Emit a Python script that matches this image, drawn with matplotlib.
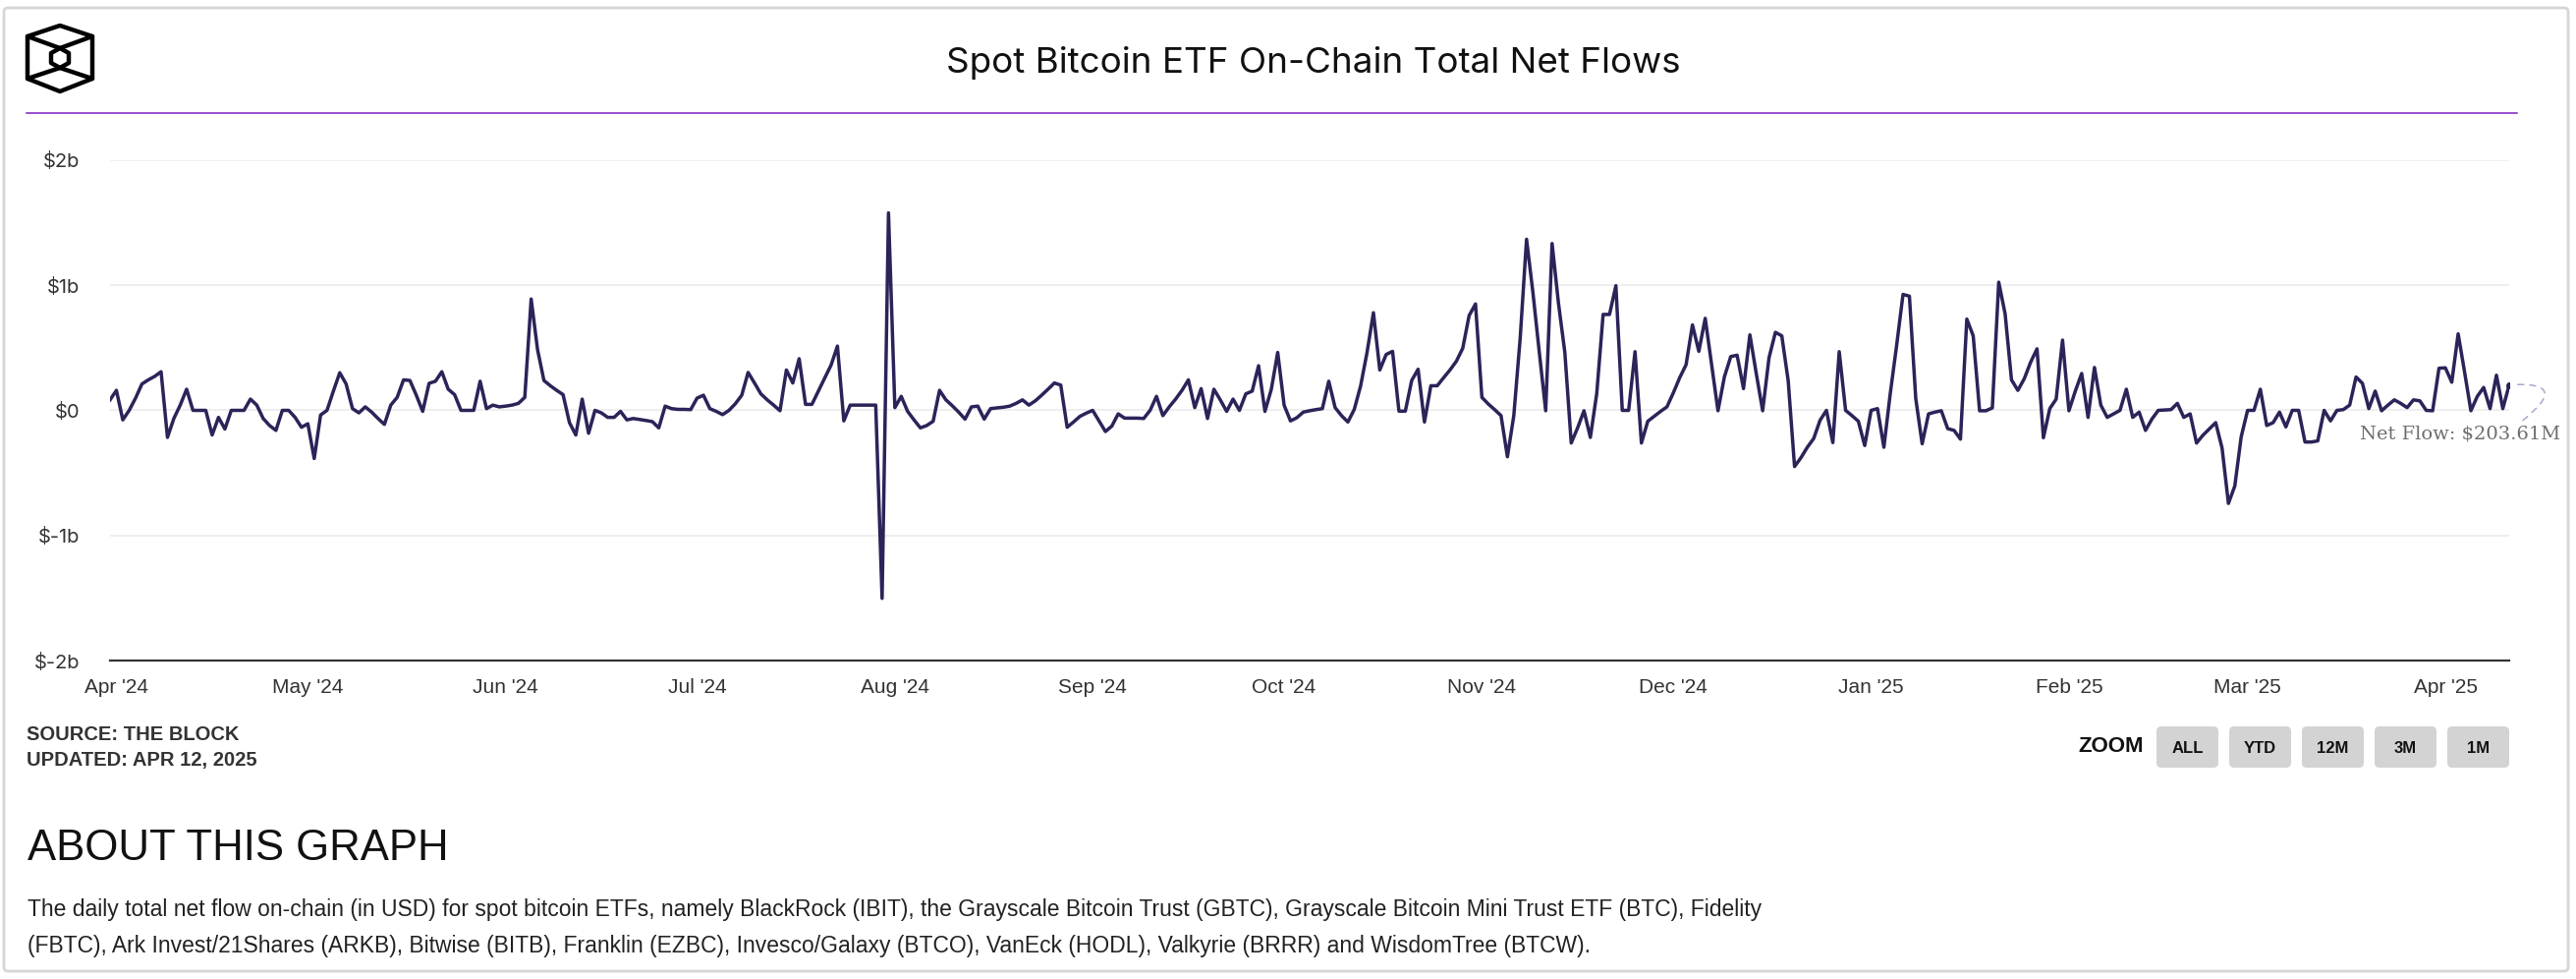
import matplotlib
matplotlib.use("Agg")
import matplotlib.pyplot as plt
import matplotlib.dates as mdates
from matplotlib.ticker import FuncFormatter
from matplotlib.patches import FancyBboxPatch, Polygon
import pandas as pd

# Data: daily on-chain net flow, $ millions
start_date = "2024-03-31"
end_date = "2025-04-11"
net_flow_musd = [
    84, 160, -76, 0, 98, 211, 244, 272, 309, -216,
    -65, 42, 169, 0, 0, 0, -197, -56, -149, 0,
    0, 0, 90, 42, -65, -121, -160, 0, 0, -56,
    -135, -107, -385, -37, 0, 154, 301, 211, 14, -20,
    28, -14, -65, -112, 42, 104, 244, 239, 121, -8,
    216, 233, 309, 169, 126, 0, 0, 0, 233, 14,
    42, 28, 34, 42, 56, 104, 890, 486, 239, 197,
    160, 126, -98, -197, 90, -183, 0, -20, -56, -56,
    -8, -76, -65, -73, -81, -90, -140, 34, 14, 8,
    8, 6, 98, 121, 14, -8, -34, 0, 53, 121,
    303, 219, 132, 84, 42, -3, 323, 219, 413, 48,
    48, 154, 258, 362, 514, -84, 42, 42, 42, 42,
    42, -1503, 1579, 22, 112, -8, -76, -140, -121, -87,
    160, 84, 37, -14, -70, 28, 34, -70, 14, 20,
    25, 34, 56, 84, 42, 76, 121, 169, 219, 202,
    -135, -93, -48, -22, 0, -84, -169, -126, -28, -62,
    -62, -62, -65, 0, 112, -42, 28, 90, 160, 244,
    22, 174, -65, 169, 84, -8, 90, 0, 132, 154,
    357, -8, 169, 463, 42, -84, -59, -14, -3, 6,
    14, 233, 22, -42, -93, 8, 197, 463, 781, 323,
    447, 472, -6, -6, 239, 329, -93, 197, 197, 261,
    323, 393, 497, 758, 851, 104, 51, 6, -42, -371,
    -42, 576, 1368, 941, 463, -3, 1334, 857, 463, -261,
    -140, -3, -216, 135, 767, 767, 997, 0, 0, 469,
    -261, -87, -48, -8, 28, 140, 261, 365, 683, 472,
    736, 365, -3, 267, 430, 441, 174, 604, 295, -3,
    421, 624, 596, 239, -449, -379, -295, -225, -79, 0,
    -258, 469, 0, -42, -87, -281, 0, 14, -295, 135,
    520, 927, 913, 93, -267, -28, -14, -3, -146, -160,
    -230, 730, 596, -3, -3, 20, 1025, 772, 244, 160,
    253, 385, 492, -219, 14, 90, 562, -3, 154, 295,
    -56, 343, 42, -56, -28, 0, 169, -56, -14, -160,
    -70, 0, 3, 6, 56, -56, -28, -261, -199, -149,
    -98, -301, -744, -604, -211, 0, 0, 169, -121, -98,
    -14, -132, 0, 0, -253, -253, -244, 0, -84, 0,
    6, 42, 267, 216, 14, 154, -3, 42, 84, 56,
    22, 84, 76, 0, -3, 337, 340, 225, 612, 309,
    -3, 112, 183, 14, 281, 14, 203.61,
]
dates = pd.date_range(start_date, end_date, freq="D")

title = "Spot Bitcoin ETF On-Chain Total Net Flows"
zoom_labels = ["ALL", "YTD", "12M", "3M", "1M"]
about_lines = [
    "The daily total net flow on-chain (in USD) for spot bitcoin ETFs, namely BlackRock (IBIT), "
    "the Grayscale Bitcoin Trust (GBTC), Grayscale Bitcoin Mini Trust ETF (BTC), Fidelity",
    "(FBTC), Ark Invest/21Shares (ARKB), Bitwise (BITB), Franklin (EZBC), Invesco/Galaxy (BTCO), "
    "VanEck (HODL), Valkyrie (BRRR) and WisdomTree (BTCW).",
]

# Styling
W, H = 2622, 996
line_color = "#2a2459"
text_dark = "#333333"
purple = "#7d1fc4"

fig = plt.figure(figsize=(W / 100, H / 100), dpi=100)
fig.patch.set_facecolor("white")

# Overlay in pixel coords (y down) for the page furniture
deco = fig.add_axes([0, 0, 1, 1])
deco.set_xlim(0, W)
deco.set_ylim(H, 0)
deco.axis("off")

card = FancyBboxPatch((4, 8), 2610, 980, boxstyle="round,pad=0,rounding_size=4",
                      fc="white", ec="#d6d6d6", lw=2, clip_on=False)
deco.add_patch(card)

# logo
outer = [(61, 26), (94, 37), (94, 80), (61, 93), (28, 80), (28, 37)]
inner = [(61, 49), (70, 54), (70, 64), (61, 69), (52, 64), (52, 54)]
deco.add_patch(Polygon(outer, closed=True, fill=False, ec="black", lw=3.2, joinstyle="round"))
deco.add_patch(Polygon(inner, closed=True, fill=False, ec="black", lw=3.2, joinstyle="round"))
for (xa, ya), (xb, yb) in [((28, 37), (61, 49)), ((94, 37), (61, 49)),
                           ((28, 80), (61, 69)), ((94, 80), (61, 69))]:
    deco.plot([xa, xb], [ya, yb], color="black", lw=3.2, solid_capstyle="round")

deco.text(1337, 64, title, ha="center", va="center", fontsize=26.5,
          family="Inter", color="#111111")
deco.plot([27, 2562], [115, 115], color=purple, lw=1.1)

deco.text(27, 747, "SOURCE: THE BLOCK", va="center", fontsize=14.5,
          fontweight="bold", family="Liberation Sans", color=text_dark)
deco.text(27, 773, "UPDATED: APR 12, 2025", va="center", fontsize=14.5,
          fontweight="bold", family="Liberation Sans", color=text_dark)

deco.text(2182, 759, "ZOOM", ha="right", va="center", fontsize=16,
          fontweight="bold", family="Liberation Sans", color="#111111")
for i, lab in enumerate(zoom_labels):
    x0 = 2195 + 74 * i
    deco.add_patch(FancyBboxPatch((x0, 739), 63, 42, boxstyle="round,pad=0,rounding_size=5",
                                  fc="#d3d3d3", ec="none"))
    deco.text(x0 + 31.5, 761, lab, ha="center", va="center", fontsize=12,
              fontweight="bold", family="Liberation Sans", color="#111111")

deco.text(28, 863, "ABOUT THIS GRAPH", va="center", fontsize=31.5,
          family="Liberation Sans", color="#111111")
for j, ln in enumerate(about_lines):
    deco.text(28, 925 + 37 * j, ln, va="center", fontsize=16.5,
              family="Liberation Sans", color="#222222")

# Main chart
ax = fig.add_axes([112 / W, (H - 672) / H, (2554 - 112) / W, (672 - 163) / H])
ax.set_facecolor("none")
ax.plot(dates, net_flow_musd, color=line_color, lw=2.5)
ax.plot(dates[-1], net_flow_musd[-1], "o", color=line_color, ms=4)

ax.set_xlim(dates[0], dates[-1])
ax.set_ylim(-2000, 2000)
ax.set_yticks([-2000, -1000, 0, 1000, 2000])
ax.yaxis.set_major_formatter(FuncFormatter(lambda v, p: "$0" if v == 0 else f"${v / 1000:.0f}b"))
ax.xaxis.set_major_locator(mdates.MonthLocator())
ax.xaxis.set_major_formatter(mdates.DateFormatter("%b '%y"))

ax.grid(axis="y", color="#e9e9e9", lw=1.1)
ax.set_axisbelow(True)
for side in ["top", "right", "left"]:
    ax.spines[side].set_visible(False)
ax.spines["bottom"].set_color(text_dark)
ax.spines["bottom"].set_linewidth(1.6)
ax.tick_params(axis="both", length=0, colors=text_dark)
ax.tick_params(axis="y", pad=22, labelsize=14.5)
ax.tick_params(axis="x", pad=13, labelsize=15)
for lbl in ax.get_yticklabels():
    lbl.set_family("Inter")
for lbl in ax.get_xticklabels():
    lbl.set_family("Liberation Sans")

# tooltip-style label at the last point
ax.annotate("", xy=(dates[-1], net_flow_musd[-1]), xytext=(14, -36), textcoords="offset pixels",
            arrowprops=dict(arrowstyle="-", color="#a9a7c9", lw=1.1, linestyle=(0, (4, 4)),
                            connectionstyle="arc3,rad=1.6", shrinkA=0, shrinkB=4),
            annotation_clip=False)
ax.annotate(f"Net Flow: ${net_flow_musd[-1]:.2f}M", xy=(dates[-1], net_flow_musd[-1]),
            xytext=(-50, -50), textcoords="offset pixels", ha="center", va="center",
            family="DejaVu Serif", fontsize=14, color="#6e6e6e", annotation_clip=False)

fig.savefig("out.png", dpi=100)
